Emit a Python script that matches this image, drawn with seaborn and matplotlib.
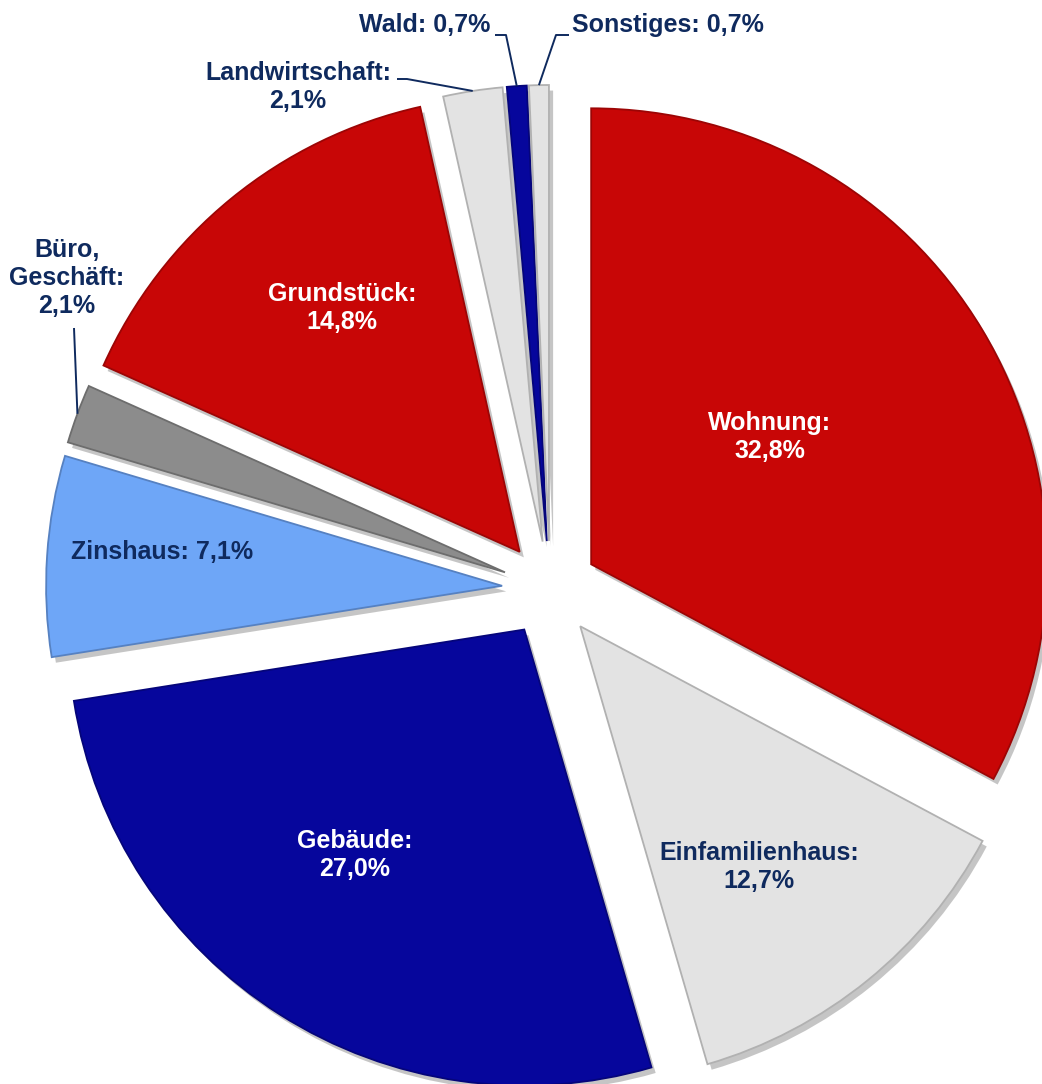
import matplotlib
matplotlib.use('Agg')
import matplotlib.pyplot as plt
import seaborn as sns
import numpy as np
from matplotlib import patheffects as pe
from matplotlib.colors import to_rgb

# ---- data ----
categories = ['Wohnung', 'Einfamilienhaus', 'Gebäude', 'Zinshaus', 'Büro,\nGeschäft',
              'Grundstück', 'Landwirtschaft', 'Wald', 'Sonstiges']
values = [32.8, 12.7, 27.0, 7.1, 2.1, 14.8, 2.1, 0.7, 0.7]
colors = ['#C80606', '#E3E3E3', '#06069C', '#6EA6F7', '#8C8C8C',
          '#C80606', '#E3E3E3', '#06069C', '#E3E3E3']

sns.set_theme(style='white')
plt.rcParams['font.family'] = ['Liberation Sans Narrow', 'Liberation Sans', 'DejaVu Sans']

NAVY = '#0F2A5E'
W, H = 1042, 1084
fig = plt.figure(figsize=(W / 100, H / 100), dpi=100)
ax = fig.add_axes([0, 0, 1, 1])


def img(x, y):
    return (x, H - y)


R = 456
C = img(550, 589)
explode = [48] * len(values)   # explosion distance in pixels (data units)
wedges, _ = ax.pie(values, colors=colors, startangle=90, counterclock=False,
                   radius=R, center=C, explode=explode,
                   wedgeprops=dict(linewidth=1.3))
for w, c in zip(wedges, colors):
    r, g, b = to_rgb(c)
    w.set_edgecolor((r * 0.78, g * 0.78, b * 0.78))
    w.set_path_effects([pe.SimplePatchShadow(offset=(3, -4), shadow_rgbFace='k', alpha=0.25),
                        pe.Normal()])

ax.set_xlim(0, W)
ax.set_ylim(0, H)
ax.set_aspect('equal')
ax.axis('off')


def fmt(v):
    return f"{v:.1f}".replace('.', ',') + '%'


single_line = {'Zinshaus', 'Wald', 'Sonstiges'}
white_text = {'Wohnung', 'Gebäude', 'Grundstück'}
label_pos = {
    'Wohnung': (770, 437), 'Einfamilienhaus': (759, 867), 'Gebäude': (355, 855),
    'Zinshaus': (162, 552), 'Büro,\nGeschäft': (67, 278), 'Grundstück': (342, 308),
    'Landwirtschaft': (298, 87), 'Wald': (425, 25), 'Sonstiges': (668, 25),
}
for cat, v in zip(categories, values):
    sep = ' ' if cat in single_line else '\n'
    txt = f"{cat}:{sep}{fmt(v)}"
    ax.text(*img(*label_pos[cat]), txt, ha='center', va='center', multialignment='center',
            fontsize=18, fontweight='bold', linespacing=1.2,
            color='white' if cat in white_text else NAVY)


def tip(w):
    th = np.deg2rad((w.theta1 + w.theta2) / 2)
    cx, cy = w.center
    return (cx + w.r * np.cos(th), cy + w.r * np.sin(th))


leader_start = {
    'Büro,\nGeschäft': [(74, 328)],
    'Landwirtschaft': [(397, 79), (407, 79)],
    'Wald': [(495, 35), (506, 35)],
    'Sonstiges': [(569, 35), (556, 35)],
}
for cat, w in zip(categories, wedges):
    if cat in leader_start:
        pts = [img(*p) for p in leader_start[cat]] + [tip(w)]
        xs, ys = zip(*pts)
        ax.plot(xs, ys, color=NAVY, lw=1.4, solid_capstyle='butt')

fig.savefig('out.png', dpi=100)
